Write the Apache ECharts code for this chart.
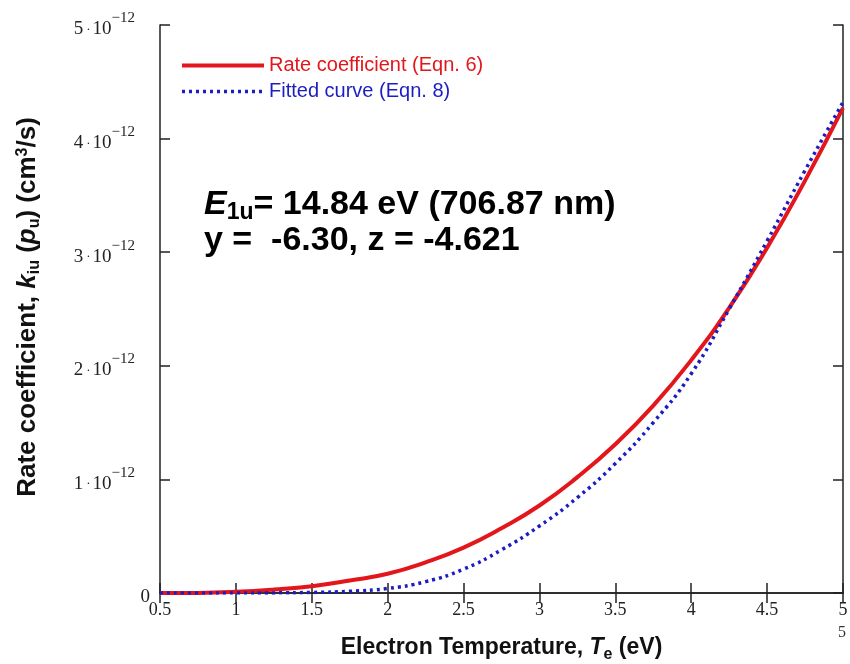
<!DOCTYPE html>
<html>
<head>
<meta charset="utf-8">
<title>Rate coefficient vs electron temperature</title>
<script src="https://cdn.jsdelivr.net/npm/echarts@6/dist/echarts.min.js"></script>
<style>
  html, body { margin: 0; padding: 0; background: #fff; }
  #chart { width: 850px; height: 664px; }
</style>
</head>
<body>
<div id="chart"></div>
<script>
// electron temperature (eV)
const tempEv = [0.5, 0.75, 1.0, 1.25, 1.5, 1.75, 2.0, 2.25, 2.5, 2.75, 3.0, 3.25, 3.5, 3.75, 4.0, 4.25, 4.5, 4.75, 5.0];
// values in units of 1e-12 cm^3/s
const rateCoef = [0.0, 0.001, 0.01, 0.03, 0.06, 0.11, 0.17, 0.27, 0.40, 0.57, 0.77, 1.02, 1.31, 1.65, 2.05, 2.51, 3.04, 3.63, 4.27];
const fittedCurve = [0.0, 0.0, 0.0, 0.001, 0.005, 0.015, 0.04, 0.10, 0.21, 0.38, 0.59, 0.84, 1.14, 1.50, 1.93, 2.50, 3.10, 3.72, 4.32];

const seriesNames = ["Rate coefficient (Eqn. 6)", "Fitted curve (Eqn. 8)"];
const red = "#e3161b";
const blue = "#1c1cc4";
const frame = "#222";

const chart = echarts.init(document.getElementById("chart"));

const zip = (xs, ys) => xs.map((x, i) => [x, ys[i]]);

const serif = "Liberation Serif";
const sans = "Liberation Sans";

// shared frame style for the four sides
const frameAxis = {
  axisLine: { show: true, lineStyle: { color: frame, width: 1.5 } },
  axisTick: { show: true, inside: true, length: 10, lineStyle: { color: frame, width: 1.5 } },
  splitLine: { show: false }
};

const titleRich = (size, subSize) => ({
  b: { fontFamily: sans, fontWeight: "bold", fontSize: size, fill: "#111", color: "#111", lineHeight: 30, verticalAlign: "middle" },
  i: { fontFamily: sans, fontWeight: "bold", fontStyle: "italic", fontSize: size, fill: "#111", color: "#111", lineHeight: 30, verticalAlign: "middle" },
  s: { fontFamily: sans, fontWeight: "bold", fontSize: subSize, fill: "#111", color: "#111", padding: [13, 0, 0, 0], verticalAlign: "middle" },
  t: { fontFamily: sans, fontWeight: "bold", fontSize: subSize, fill: "#111", color: "#111", padding: [0, 0, 11, 0], verticalAlign: "middle" }
});

const redLine = { color: red, width: 4 };
const blueLine = { color: blue, width: 3.5, type: [3, 4] };

chart.setOption({
  animation: false,
  grid: { left: 160, right: 7, top: 25, bottom: 71, outerBoundsMode: "none" },
  legend: {
    orient: "vertical",
    left: 175,
    top: 50,
    itemWidth: 82,
    itemHeight: 14,
    itemGap: 5,
    itemStyle: { opacity: 0 },
    textStyle: { fontFamily: sans, fontSize: 20, lineHeight: 21 },
    data: [
      { name: seriesNames[0], textStyle: { color: red }, lineStyle: redLine },
      { name: seriesNames[1], textStyle: { color: blue }, lineStyle: blueLine }
    ]
  },
  xAxis: [
    Object.assign({
      type: "value",
      min: 0.5,
      max: 5,
      interval: 0.5,
      axisLabel: { color: "#222", fontFamily: serif, fontSize: 18, margin: 8 },
      name: "{b|Electron Temperature, }{i|T}{s|e}{b| (eV)}",
      nameLocation: "middle",
      nameGap: 40,
      nameTextStyle: { rich: titleRich(23, 16) }
    }, frameAxis),
    Object.assign({
      type: "value",
      position: "top",
      min: 0.5,
      max: 5,
      interval: 0.5,
      axisLabel: { show: false }
    }, frameAxis)
  ],
  yAxis: [
    Object.assign({
      type: "value",
      min: 0,
      max: 5,
      interval: 1,
      axisLabel: {
        margin: 10,
        formatter: v => (v === 0 ? "{z|0}" : `{n|${v}}{d|·}{n|10}{e|−12}`),
        rich: {
          z: { fontFamily: serif, fontSize: 19, color: "#222", padding: [8, 0, 0, 0] },
          n: { fontFamily: serif, fontSize: 19, color: "#222", lineHeight: 28, verticalAlign: "bottom" },
          d: { fontFamily: serif, fontSize: 13, color: "#222", lineHeight: 28, verticalAlign: "bottom", padding: [0, 2, 3, 3] },
          e: { fontFamily: serif, fontSize: 15, color: "#222", lineHeight: 28, verticalAlign: "top", padding: [0, 15, 0, 0] }
        }
      }
    }, frameAxis),
    Object.assign({
      type: "value",
      position: "right",
      min: 0,
      max: 5,
      interval: 1,
      axisLabel: { show: false }
    }, frameAxis)
  ],
  series: [
    {
      name: seriesNames[0],
      type: "line",
      smooth: true,
      symbol: "none",
      data: zip(tempEv, rateCoef),
      lineStyle: redLine,
      itemStyle: { color: red }
    },
    {
      name: seriesNames[1],
      type: "line",
      smooth: true,
      symbol: "none",
      data: zip(tempEv, fittedCurve),
      lineStyle: blueLine,
      itemStyle: { color: blue }
    }
  ],
  graphic: [
    {
      // y axis title, drawn rotated
      type: "text",
      x: 28,
      y: 307,
      rotation: Math.PI / 2,
      style: {
        text: "{b|Rate coefficient, }{i|k}{s|iu}{b| (}{i|p}{s|u}{b|) (cm}{t|3}{b|/s)}",
        align: "center",
        verticalAlign: "middle",
        rich: titleRich(26, 16)
      }
    },
    {
      type: "text",
      left: 204,
      top: 188,
      style: {
        text: "{i|E}{s|1u}{b|= 14.84 eV (706.87 nm)}\n{b|y =  -6.30, z = -4.621}",
        rich: {
          b: { fontFamily: sans, fontWeight: "bold", fontSize: 34, fill: "#000", lineHeight: 32, verticalAlign: "middle" },
          i: { fontFamily: sans, fontWeight: "bold", fontStyle: "italic", fontSize: 34, fill: "#000", lineHeight: 32, verticalAlign: "middle" },
          s: { fontFamily: sans, fontWeight: "bold", fontSize: 23, fill: "#000", padding: [16, 0, 0, 0], verticalAlign: "middle" }
        }
      }
    },
    {
      type: "text",
      left: 838,
      top: 625,
      style: { text: "5", fontFamily: serif, fontSize: 16, fill: "#333" }
    }
  ]
});
</script>
</body>
</html>
